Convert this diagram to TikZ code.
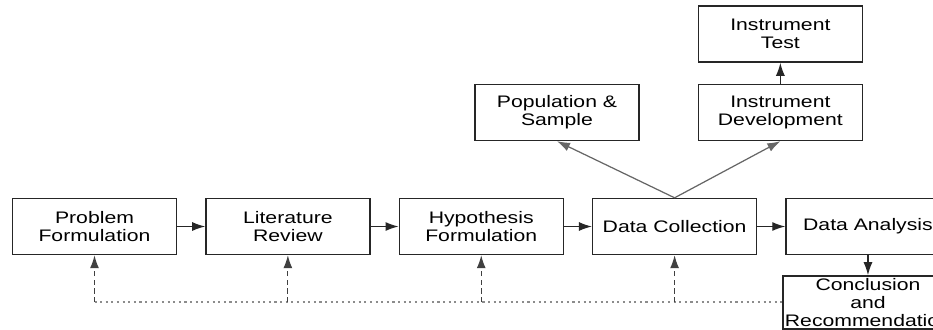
\documentclass[tikz,border=0pt]{standalone}
\usepackage{fontspec}
\setmainfont[FakeStretch=1.27]{Liberation Sans}
\usetikzlibrary{positioning,arrows.meta}

\tikzset{
  stage/.style={draw=black!85, line width=0.8pt, minimum width=3.28cm, minimum height=1.12cm,
    align=center, font=\fontsize{9.5}{10.2}\selectfont, inner sep=1pt},
  flow/.style={line width=0.7pt, black!85, -{Latex[length=2.6mm,width=1.8mm]}},
  branch/.style={line width=0.7pt, black!60, -{Latex[length=2.6mm,width=1.8mm]}},
  feedback/.style={line width=0.7pt, black!75, densely dashed, -{Latex[length=2.6mm,width=1.8mm]}},
}

\begin{document}
\begin{tikzpicture}[x=0.02cm, y=-0.02cm, node distance={0.56cm}]
  \clip (0,0) rectangle (933,329);
  % main chain
  \node[stage] (problem) at (94.5,226.5) {Problem\\Formulation};
  \node[stage] (review) [right=of problem] {Literature\\Review};
  \node[stage] (hypo) [right=of review] {Hypothesis\\Formulation};
  \node[stage] (collect) [right=of hypo] {Data Collection};
  \node[stage] (analysis) [right=of collect] {Data Analysis};
  \node[stage, minimum height=1.06cm] (concl) [below=0.4cm of analysis] {Conclusion\\and\\Recommendation};
  % upper branch
  \node[stage] (pop) at (557,112.5) {Population \&\\Sample};
  \node[stage] (instdev) [right=1.16cm of pop] {Instrument\\Development};
  \node[stage] (insttest) [above=0.42cm of instdev] {Instrument\\Test};

  \draw[flow] (problem) -- (review);
  \draw[flow] (review) -- (hypo);
  \draw[flow] (hypo) -- (collect);
  \draw[flow] (collect) -- (analysis);
  \draw[flow] (analysis) -- (concl);
  \draw[flow] (instdev) -- (insttest);
  \draw[branch] (collect.north) -- (pop.south);
  \draw[branch] (collect.north) -- (instdev.south);

  % feedback line
  \draw[black!45, line width=1.2pt, dotted] (problem |- concl.west) -- (concl.west);
  \foreach \n in {problem,review,hypo,collect}
    \draw[feedback] (\n |- concl.west) -- (\n.south);
\end{tikzpicture}
\end{document}
